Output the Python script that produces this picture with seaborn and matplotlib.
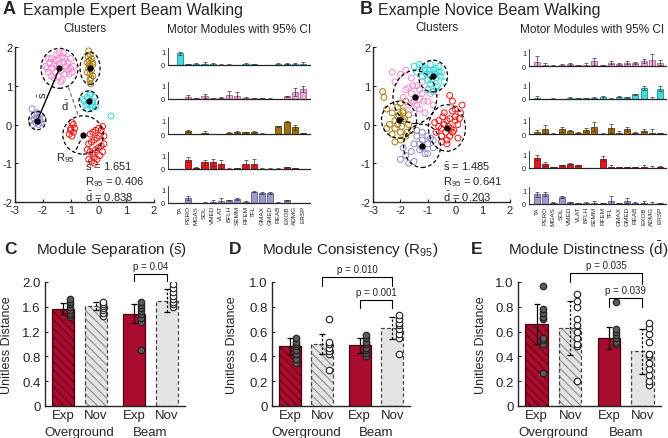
import numpy as np
import matplotlib
matplotlib.use("Agg")
import matplotlib.pyplot as plt
import matplotlib.transforms as mtransforms
from matplotlib.patches import Ellipse
import seaborn as sns

# =====================================
# DATA
# =====================================

muscles = ["TA", "PERO", "MGAS", "SOL", "VMED", "VLAT", "BFLH", "SEMM",
           "RFEM", "TFL", "GMAX", "GMED", "REAB", "EXOB", "ADMG", "ERSP"]

# --- Panel A clusters (expert) ---
a_pink_x = [-1.9, -1.8, -1.7, -1.6, -1.5, -1.4, -1.3, -1.2, -1.1, -1.0, -0.9, -1.75,
            -1.65, -1.55, -1.45, -1.35, -1.25, -1.15, -1.05, -1.85, -1.5, -1.3, -1.2, -1.6,
            -1.4, -1.7, -1.0, -1.35, -1.55, -1.25, -1.45, -1.1, -1.8, -0.95]
a_pink_y = [1.5, 1.35, 1.7, 1.2, 1.8, 1.55, 1.75, 1.3, 1.6, 1.45, 1.5, 1.6,
            1.45, 1.65, 1.25, 1.4, 1.6, 1.5, 1.3, 1.45, 1.5, 1.15, 1.7, 1.55,
            1.85, 1.25, 1.7, 1.1, 1.35, 1.85, 1.7, 1.4, 1.7, 1.35]
a_brown_x = [-0.35, -0.3, -0.25, -0.4, -0.2, -0.3, -0.35, -0.25, -0.3, -0.2, -0.4,
             -0.3, -0.28, -0.33, -0.22, -0.37, -0.27, -0.32]
a_brown_y = [1.9, 1.8, 1.7, 1.6, 1.55, 1.5, 1.45, 1.4, 1.3, 1.25, 1.35,
             1.15, 1.05, 1.65, 1.6, 1.75, 1.2, 1.55]
a_cyan_x = [-0.5, -0.4, -0.3, -0.2, -0.45, -0.35, -0.25, -0.15, -0.55, -0.3, -0.4,
            -0.2, -0.1, 0.45]
a_cyan_y = [0.6, 0.7, 0.75, 0.6, 0.5, 0.55, 0.45, 0.7, 0.65, 0.8, 0.4,
            0.5, 0.45, 0.22]
a_purple_x = [-2.4, -2.3, -2.2, -2.1, -2.0, -2.35, -2.25, -2.15, -2.05, -2.3, -2.2,
              -2.1, -2.39]
a_purple_y = [0.1, 0.15, 0.2, 0.1, 0.15, 0.0, 0.05, 0.0, 0.05, 0.25, 0.3,
              0.25, 0.4]
a_red_x = [-1.0, -0.95, -0.9, -1.05, -0.95, -0.9, -0.85, -1.0,
           -0.35, -0.25, -0.15, -0.05, 0.05, 0.15, -0.3, -0.2, -0.1, 0.0, 0.1, 0.2,
           -0.35, -0.25, -0.15, -0.05, 0.05, -0.3, -0.2, -0.1, 0.0, 0.1, 0.2, -0.15,
           -0.4, 0.15]
a_red_y = [-0.1, 0.05, -0.2, -0.25, -0.3, 0.0, -0.1, -0.15,
           -0.9, -0.95, -0.85, -0.9, -0.8, -0.7, -0.7, -0.75, -0.65, -0.6, -0.55, -0.5,
           -0.5, -0.45, -0.4, -0.35, -0.3, -0.25, -0.2, -0.15, -0.1, -0.15, -0.3, -1.0,
           -0.65, -0.05]
a_cent_x = [-1.4, -0.3, -0.35, -2.2, -0.55]
a_cent_y = [1.45, 1.45, 0.6, 0.1, -0.27]
a_ell_w = [1.33, 0.72, 0.70, 0.62, 1.46]
a_ell_h = [1.03, 0.83, 0.53, 0.47, 0.99]

# --- Panel B clusters (novice) ---
b_cyan_x = [-1.5, -1.3, -1.1, -0.9, -0.7, -0.5, -0.4, -1.2, -1.0, -0.8, -0.6, -0.9,
            -0.7, -1.4, -1.1, -0.55, -0.8, -1.0, -0.65, -1.2, -0.9, -0.75, -0.85,
            -0.6, -1.05, -0.95, -0.7]
b_cyan_y = [1.5, 1.55, 1.45, 1.3, 1.2, 1.35, 1.1, 1.25, 1.15, 1.4, 1.5, 1.05,
            0.95, 1.35, 1.4, 1.25, 0.85, 0.9, 1.0, 1.5, 1.55, 1.3, 1.15, 1.35,
            1.3, 1.4, 1.45]
b_pink_x = [-2.2, -2.0, -1.8, -1.6, -1.4, -1.2, -1.0, -0.8, -1.9, -1.7, -1.5, -1.3,
            -1.1, -0.9, -1.6, -1.4, -1.2, -1.8, -2.3, -1.0, -1.5, -1.3, -1.45, -1.6,
            -1.3, -1.7, -1.15, -1.55]
b_pink_y = [1.1, 1.3, 0.9, 1.2, 1.0, 0.8, 0.6, 0.5, 0.7, 0.5, 0.6, 0.4,
            0.3, 0.8, 0.8, 0.5, 1.1, 1.4, 1.35, 0.9, 0.3, 0.65, 0.7, 0.55,
            0.9, 0.95, 0.6, 1.0]
b_brown_x = [-2.6, -2.5, -2.3, -2.1, -1.9, -1.7, -2.2, -2.0, -1.8, -2.4, -2.1, -1.9,
             -1.7, -2.3, -2.0, -2.5, -1.6, -2.2, -2.65, -1.8, -2.1, -1.95, -2.05,
             -1.85, -2.2, -1.75, -2.0, -1.9]
b_brown_y = [0.7, 0.4, 0.3, 0.2, 0.1, 0.0, -0.1, -0.2, -0.3, 0.0, 0.45, 0.35,
             0.25, -0.25, 0.55, -0.1, -0.15, -0.45, 0.85, 0.6, 0.0, -0.05, 0.25,
             0.15, 0.1, -0.2, -0.4, 0.3]
b_red_x = [-0.7, -0.5, -0.3, -0.1, 0.1, 0.2, -0.6, -0.4, -0.2, 0.0, -0.5, -0.3,
           -0.1, -0.4, -0.2, 0.0, 0.25, -0.75, -0.6, -0.15, 0.1, -0.5, -0.35,
           -0.2, -0.05, 0.0, -0.3, -0.45, -0.1, 0.15, -0.25]
b_red_y = [-0.2, -0.3, -0.4, -0.2, 0.0, 0.3, 0.1, 0.0, 0.15, 0.4, -0.45, -0.5,
           0.6, 0.3, 0.75, 0.1, 0.5, 0.05, -0.05, -0.1, -0.35, -0.1, -0.2,
           -0.3, -0.15, 0.2, 0.1, 0.2, 0.35, 0.15, -0.05]
b_purple_x = [-2.0, -1.8, -1.6, -1.4, -1.2, -1.0, -0.8, -1.7, -1.5, -1.3, -1.1, -0.9,
              -1.4, -1.2, -1.9, -1.0, -1.3, -1.2, -1.0, -0.8, -1.5]
b_purple_y = [-0.9, -0.8, -0.7, -0.3, -0.4, -0.5, -0.6, -1.0, -0.95, -0.65, -0.75,
              -0.35, -0.15, -0.2, -0.6, -0.75, -0.5, -0.6, -0.3, -0.4, -0.5]
b_cent_x = [-0.81, -1.47, -2.05, -0.3, -1.21]
b_cent_y = [1.25, 0.71, 0.12, -0.09, -0.55]
b_ell_w = [1.06, 1.60, 1.28, 1.35, 1.35]
b_ell_h = [0.82, 1.37, 0.95, 1.20, 1.12]

# --- Panel A motor modules (top to bottom) ---
a_cyan_v = [0.88, 0.08, 0.06, 0.08, 0.05, 0.02, 0.03, 0.01, 0.06, 0.06, 0.01, 0.01, 0.05, 0.10, 0.08, 0.10]
a_cyan_e = [0.15, 0.03, 0.08, 0.15, 0.12, 0.05, 0.03, 0.02, 0.10, 0.05, 0.02, 0.02, 0.08, 0.05, 0.06, 0.12]
a_pink_v = [0.00, 0.15, 0.05, 0.20, 0.07, 0.10, 0.30, 0.20, 0.05, 0.05, 0.05, 0.03, 0.00, 0.20, 0.55, 0.75]
a_pink_e = [0.00, 0.15, 0.03, 0.15, 0.04, 0.05, 0.35, 0.30, 0.12, 0.05, 0.05, 0.03, 0.00, 0.05, 0.30, 0.25]
a_brown_v = [0.00, 0.20, 0.00, 0.05, 0.00, 0.00, 0.05, 0.15, 0.12, 0.15, 0.02, 0.00, 0.60, 0.95, 0.50, 0.05]
a_brown_e = [0.00, 0.08, 0.00, 0.15, 0.02, 0.02, 0.10, 0.05, 0.03, 0.05, 0.04, 0.00, 0.05, 0.02, 0.20, 0.04]
a_red_v = [0.00, 0.70, 0.10, 0.50, 0.50, 0.40, 0.03, 0.08, 0.35, 0.40, 0.03, 0.02, 0.02, 0.12, 0.05, 0.00]
a_red_e = [0.00, 0.20, 0.05, 0.20, 0.30, 0.30, 0.03, 0.03, 0.35, 0.40, 0.03, 0.02, 0.02, 0.05, 0.05, 0.00]
a_purple_v = [0.00, 0.35, 0.00, 0.03, 0.10, 0.15, 0.20, 0.30, 0.05, 0.85, 0.75, 0.75, 0.03, 0.20, 0.00, 0.00]
a_purple_e = [0.00, 0.15, 0.00, 0.03, 0.15, 0.20, 0.05, 0.08, 0.10, 0.03, 0.08, 0.08, 0.03, 0.05, 0.00, 0.00]

# --- Panel B motor modules (top to bottom) ---
b_pink_v = [0.30, 0.10, 0.03, 0.08, 0.15, 0.05, 0.10, 0.35, 0.05, 0.25, 0.15, 0.25, 0.20, 0.35, 0.45, 0.25]
b_pink_e = [0.45, 0.10, 0.03, 0.08, 0.05, 0.03, 0.10, 0.30, 0.05, 0.10, 0.10, 0.10, 0.08, 0.15, 0.45, 0.20]
b_cyan_v = [0.10, 0.00, 0.03, 0.00, 0.08, 0.05, 0.05, 0.08, 0.12, 0.02, 0.18, 0.12, 0.35, 0.85, 0.02, 0.80]
b_cyan_e = [0.10, 0.00, 0.02, 0.00, 0.05, 0.03, 0.03, 0.10, 0.10, 0.05, 0.03, 0.03, 0.05, 0.15, 0.10, 0.20]
b_brown_v = [0.15, 0.40, 0.03, 0.35, 0.25, 0.10, 0.30, 0.55, 0.03, 0.45, 0.10, 0.35, 0.10, 0.25, 0.10, 0.05]
b_brown_e = [0.15, 0.30, 0.02, 0.20, 0.05, 0.03, 0.15, 0.35, 0.03, 0.35, 0.10, 0.15, 0.03, 0.10, 0.25, 0.05]
b_red_v = [0.80, 0.30, 0.05, 0.20, 0.30, 0.20, 0.00, 0.00, 0.70, 0.10, 0.05, 0.08, 0.08, 0.10, 0.02, 0.10]
b_red_e = [0.20, 0.15, 0.03, 0.05, 0.05, 0.05, 0.02, 0.00, 0.20, 0.10, 0.03, 0.03, 0.03, 0.10, 0.10, 0.05]
b_purple_v = [0.75, 0.80, 0.10, 0.55, 0.12, 0.08, 0.05, 0.05, 0.08, 0.25, 0.08, 0.25, 0.05, 0.05, 0.03, 0.05]
b_purple_e = [0.20, 0.15, 0.02, 0.10, 0.03, 0.03, 0.10, 0.15, 0.03, 0.35, 0.03, 0.20, 0.10, 0.15, 0.10, 0.03]

# --- Bottom panels: Exp OG, Nov OG, Exp Beam, Nov Beam ---
group_ticks = ["Exp", "Nov", "Exp", "Nov"]
group_names = ["Overground", "Beam"]

sep_mean = [1.57, 1.61, 1.49, 1.70]
sep_err = [0.09, 0.06, 0.15, 0.18]
sep_pts = [[1.43, 1.47, 1.50, 1.55, 1.60, 1.64, 1.68, 1.72],
           [1.45, 1.50, 1.55, 1.58, 1.62, 1.65, 1.68],
           [0.90, 1.35, 1.42, 1.48, 1.53, 1.58, 1.63, 1.68],
           [1.60, 1.64, 1.68, 1.72, 1.78, 1.84, 1.90, 1.96]]

con_mean = [0.48, 0.50, 0.49, 0.63]
con_err = [0.07, 0.08, 0.06, 0.09]
con_pts = [[0.35, 0.38, 0.42, 0.45, 0.48, 0.50, 0.52, 0.55],
           [0.29, 0.42, 0.44, 0.47, 0.50, 0.52, 0.70],
           [0.40, 0.43, 0.45, 0.47, 0.50, 0.52, 0.55, 0.57],
           [0.42, 0.55, 0.58, 0.62, 0.65, 0.67, 0.70, 0.73]]

dis_mean = [0.66, 0.63, 0.55, 0.44]
dis_err = [0.16, 0.22, 0.09, 0.18]
dis_pts = [[0.27, 0.50, 0.53, 0.55, 0.70, 0.72, 0.75, 0.78, 0.97],
           [0.20, 0.48, 0.50, 0.55, 0.60, 0.65, 0.70, 0.80, 0.85, 0.90],
           [0.50, 0.52, 0.55, 0.57, 0.60, 0.62, 0.84],
           [0.17, 0.20, 0.25, 0.30, 0.35, 0.40, 0.42, 0.52, 0.58, 0.63, 0.67]]

# =====================================
# STYLE
# =====================================

sns.set_style("ticks")
plt.rcParams["font.family"] = ["Liberation Sans", "DejaVu Sans"]
plt.rcParams["mathtext.fontset"] = "custom"
plt.rcParams["mathtext.rm"] = "Liberation Sans"
plt.rcParams["mathtext.it"] = "Liberation Sans:italic"
plt.rcParams["mathtext.bf"] = "Liberation Sans:bold"
plt.rcParams["hatch.linewidth"] = 0.8

W, H = 668, 439
fig = plt.figure(figsize=(W / 100, H / 100), dpi=100)


def px_axes(l, t, r, b):
    return fig.add_axes([l / W, 1 - b / H, (r - l) / W, (b - t) / H])


def ftext(x, y, s, **kw):
    fig.text(x / W, 1 - y / H, s, **kw)


col = {
    "cyan": ("#3EDDE0", "#1E8E92", "#2FD5DC"),
    "pink": ("#F3A6DD", "#A9648F", "#F08AD0"),
    "brown": ("#A3720C", "#5C4000", "#A87A10"),
    "red": ("#E8161E", "#8A0A0A", "#F01212"),
    "purple": ("#9C9CCC", "#5C5C8C", "#8C8CC6"),
}

# =====================================
# CLUSTER PANELS
# =====================================


def cluster_panel(ax, clusters, cx, cy, ew, eh):
    for (xs, ys, name) in clusters:
        ax.scatter(xs, ys, s=18, facecolors="none", edgecolors=col[name][2], linewidths=0.7)
    for i in range(len(cx)):
        ax.add_patch(Ellipse((cx[i], cy[i]), ew[i], eh[i], fill=False, ec="black",
                             lw=0.9, ls=(0, (3, 2)), zorder=4))
    ax.plot(cx, cy, "o", color="black", ms=3.5, zorder=5)
    ax.set_xlim(-3, 2)
    ax.set_ylim(-2, 2)
    ax.set_xticks([-3, -2, -1, 0, 1, 2])
    ax.set_xticklabels(["-3", "-2", "-1", "0", "1", "2"])
    ax.set_yticks([-2, -1, 0, 1, 2])
    ax.set_yticklabels(["-2", "-1", "0", "1", "2"])
    ax.tick_params(labelsize=8, length=2, direction="in", pad=2, width=0.8)
    sns.despine(ax=ax)
    for sp in ["left", "bottom"]:
        ax.spines[sp].set_linewidth(1.0)


ax_a = px_axes(15, 48, 154, 203)
cluster_panel(ax_a,
              [(a_pink_x, a_pink_y, "pink"), (a_brown_x, a_brown_y, "brown"),
               (a_cyan_x, a_cyan_y, "cyan"), (a_purple_x, a_purple_y, "purple"),
               (a_red_x, a_red_y, "red")],
              a_cent_x, a_cent_y, a_ell_w, a_ell_h)
ax_a.plot([a_cent_x[3], a_cent_x[0]], [a_cent_y[3], a_cent_y[0]], color="black", lw=1.0, zorder=5)
ax_a.plot([-1.08, -0.72], [0.96, 0.23], color="#777777", lw=0.9, ls=(0, (3, 2)), zorder=5)
ax_a.plot([a_cent_x[4], -0.84], [a_cent_y[4], -0.71], color="black", lw=0.9, ls=(0, (3, 2)), zorder=5)
ax_a.text(-1.99, 0.79, r"$\bar{\mathrm{s}}$", rotation=90, fontsize=8, ha="center", va="center")
ax_a.text(-1.2, 0.5, r"$\bar{\mathrm{d}}$", fontsize=8, ha="center", va="center")
ax_a.text(-1.2, -0.83, r"R$_{95}$", fontsize=8, ha="center", va="center")

ax_b = px_axes(373, 48, 510, 203)
cluster_panel(ax_b,
              [(b_brown_x, b_brown_y, "brown"), (b_purple_x, b_purple_y, "purple"),
               (b_pink_x, b_pink_y, "pink"), (b_red_x, b_red_y, "red"),
               (b_cyan_x, b_cyan_y, "cyan")],
              b_cent_x, b_cent_y, b_ell_w, b_ell_h)

for (x0, vals) in [(85, ["1.651", "0.406", "0.838"]), (443, ["1.485", "0.641", "0.203"])]:
    ftext(x0, 167, r"$\bar{\mathrm{s}}$ = " + vals[0], fontsize=8, va="center")
    ftext(x0, 182, r"R$_{95}$ = " + vals[1], fontsize=8, va="center")
    ftext(x0, 197, r"$\bar{\mathrm{d}}$ = " + vals[2], fontsize=8, va="center")

# =====================================
# MOTOR MODULE PANELS
# =====================================


def module_row(ax, vals, errs, name, show_labels, xlim):
    fill, edge, _ = col[name]
    sns.barplot(x=muscles, y=vals, color=fill, saturation=1, edgecolor=edge,
                linewidth=0.6, width=0.75, errorbar=None, ax=ax)
    ax.errorbar(np.arange(len(muscles)), vals, yerr=errs, fmt="none", ecolor="#333333",
                elinewidth=0.5, capsize=1.3, capthick=0.5)
    ax.set_ylim(0, 1.3)
    ax.set_xlim(*xlim)
    ax.set_yticks([0, 1])
    ax.set_yticklabels(["0", "1"])
    ax.tick_params(axis="y", labelsize=5.5, length=0, pad=2)
    ax.set_xlabel("")
    ax.set_ylabel("")
    if show_labels:
        ax.set_xticks(np.arange(len(muscles)))
        ax.set_xticklabels(muscles, rotation=90, fontsize=4.6)
        ax.tick_params(axis="x", length=0, pad=1.5)
    else:
        ax.set_xticks([])
    sns.despine(ax=ax)
    ax.spines["bottom"].set_linewidth(0.9)
    ax.spines["left"].set_linewidth(0.6)


a_rows = [(a_cyan_v, a_cyan_e, "cyan"), (a_pink_v, a_pink_e, "pink"),
          (a_brown_v, a_brown_e, "brown"), (a_red_v, a_red_e, "red"),
          (a_purple_v, a_purple_e, "purple")]
b_rows = [(b_pink_v, b_pink_e, "pink"), (b_cyan_v, b_cyan_e, "cyan"),
          (b_brown_v, b_brown_e, "brown"), (b_red_v, b_red_e, "red"),
          (b_purple_v, b_purple_e, "purple")]

for i, base in enumerate([66, 100, 135, 170, 204]):
    v, e, n = a_rows[i]
    module_row(px_axes(168, base - 17, 310, base), v, e, n, i == 4, (-1.45, 15.85))
for i, base in enumerate([67, 100, 135, 169, 205]):
    v, e, n = b_rows[i]
    module_row(px_axes(529, base - 17, 666, base), v, e, n, i == 4, (-0.98, 15.73))

# titles of top panels
ftext(3, 10, "A", fontsize=13, fontweight="bold", va="center")
ftext(23, 10, "Example Expert Beam Walking", fontsize=11.5, va="center")
ftext(360, 10, "B", fontsize=13, fontweight="bold", va="center")
ftext(378, 10, "Example Novice Beam Walking", fontsize=11.5, va="center")
ftext(85, 29, "Clusters", fontsize=8.5, ha="center", va="center")
ftext(437, 28, "Clusters", fontsize=8.5, ha="center", va="center")
ftext(239, 30, "Motor Modules with 95% CI", fontsize=8.5, ha="center", va="center")
ftext(592, 30, "Motor Modules with 95% CI", fontsize=8.5, ha="center", va="center")

# =====================================
# SUMMARY BAR PANELS
# =====================================

pos = np.array([0, 1, 2.15, 3.15])
bar_w = 0.67
exp_red = "#AA0C2E"
nov_grey = "#E4E4E4"


def summary_panel(ax, means, errs, pts, ymax, yticks, ylabels, brackets, ylab_x):
    px = ymax / 124.0
    for i in range(4):
        exp = i in (0, 2)
        face = exp_red if exp else nov_grey
        ax.bar(pos[i], means[i], width=bar_w, color=face, edgecolor="none", zorder=1)
        if i in (0, 1):
            ax.bar(pos[i], means[i], width=bar_w, facecolor="none",
                   edgecolor="#5E0016" if exp else "#8E8E8E", hatch="\\\\\\\\",
                   linewidth=0, zorder=2)
        ax.bar(pos[i], means[i], width=bar_w, facecolor="none",
               edgecolor="#4A0010" if exp else "#444444", linewidth=0.9,
               linestyle="-" if exp else (0, (3, 2)), zorder=3)
        eb = ax.errorbar(pos[i], means[i], yerr=errs[i], fmt="none", ecolor="black",
                         elinewidth=0.9, capsize=2.5, capthick=0.9, zorder=4)
        if not exp:
            eb[2][0].set_linestyle((0, (2, 1.5)))
        sns.scatterplot(x=np.full(len(pts[i]), pos[i] + 0.2), y=pts[i], ax=ax,
                        color="#5A5A5A" if exp else "white", edgecolor="#1E1E1E",
                        s=22, linewidth=0.8, zorder=5, legend=False)
    for (i1, i2, yt, yl1, yl2, label) in brackets:
        ax.plot([pos[i1], pos[i1], pos[i2], pos[i2]], [yl1, yt, yt, yl2], color="black",
                lw=0.8, clip_on=False, zorder=6)
        ax.text((pos[i1] + pos[i2]) / 2, yt + 3 * px, label, ha="center", va="bottom",
                fontsize=7, clip_on=False)
    ax.set_xlim(-0.55, 3.7)
    ax.set_ylim(0, ymax)
    ax.set_yticks(yticks)
    ax.set_yticklabels(ylabels)
    ax.set_xticks(pos)
    ax.set_xticklabels(group_ticks)
    ax.tick_params(axis="x", labelsize=9.5, length=0, pad=2)
    ax.tick_params(axis="y", labelsize=9.5, length=2, direction="in", pad=3)
    tr = mtransforms.blended_transform_factory(ax.transData, ax.transAxes)
    ax.text((pos[0] + pos[1]) / 2, -0.21, group_names[0], transform=tr, ha="center",
            va="center", fontsize=9.5)
    ax.text((pos[2] + pos[3]) / 2, -0.21, group_names[1], transform=tr, ha="center",
            va="center", fontsize=9.5)
    ax.set_ylabel("Unitless Distance", fontsize=9)
    ax.yaxis.set_label_coords(ylab_x, 0.5)
    sns.despine(ax=ax)
    for sp in ["left", "bottom"]:
        ax.spines[sp].set_linewidth(1.0)


ax_c = px_axes(45, 283, 185, 407)
summary_panel(ax_c, sep_mean, sep_err, sep_pts, 2.0, [0, 0.4, 0.8, 1.2, 1.6, 2.0],
              ["0", "0.4", "0.8", "1.2", "1.6", "2.0"],
              [(2, 3, 2.13, 2.01, 2.01, "p = 0.04")], -0.225)

ax_d = px_axes(272, 283, 410, 407)
summary_panel(ax_d, con_mean, con_err, con_pts, 1.0, [0, 0.2, 0.4, 0.6, 0.8, 1.0],
              ["0", "0.2", "0.4", "0.6", "0.8", "1.0"],
              [(1, 3, 1.04, 0.97, 0.97, "p = 0.010"),
               (2, 3, 0.855, 0.79, 0.79, "p = 0.001")], -0.245)

ax_e = px_axes(518, 283, 661, 407)
summary_panel(ax_e, dis_mean, dis_err, dis_pts, 1.0, [0, 0.2, 0.4, 0.6, 0.8, 1.0],
              ["0", "0.2", "0.4", "0.6", "0.8", "1.0"],
              [(1, 3, 1.07, 1.0, 0.98, "p = 0.035"),
               (2, 3, 0.87, 0.80, 0.80, "p = 0.039")], -0.215)

ftext(4, 250, "C", fontsize=12.5, fontweight="bold", va="center")
ftext(112, 250, r"Module Separation ($\bar{\mathrm{s}}$)", fontsize=11, ha="center", va="center")
ftext(229, 250, "D", fontsize=12.5, fontweight="bold", va="center")
ftext(350, 250, r"Module Consistency (R$_{95}$)", fontsize=11, ha="center", va="center")
ftext(471, 250, "E", fontsize=12.5, fontweight="bold", va="center")
ftext(588, 250, r"Module Distinctness ($\bar{\mathrm{d}}$)", fontsize=11, ha="center", va="center")

fig.savefig("out.png", dpi=100)
